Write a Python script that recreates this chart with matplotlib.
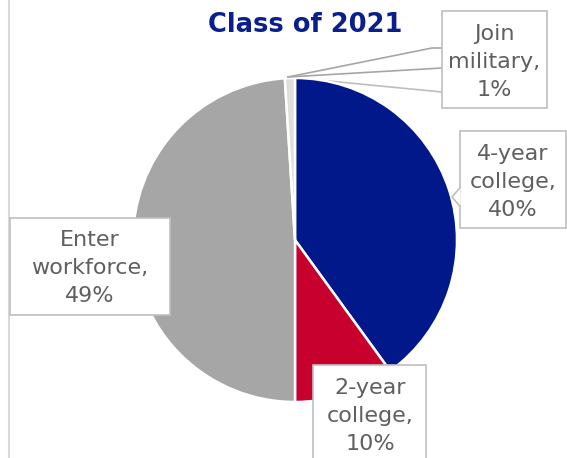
import matplotlib.pyplot as plt
from matplotlib.patches import Rectangle, Polygon

categories = ["4-year college", "2-year college", "Enter workforce", "Join military"]
percent = [40, 10, 49, 1]
colors = ["#00188a", "#c8002d", "#a6a6a6", "#dedede"]
title = "Class of 2021"

W, H = 567, 458
TEXT = "#5f5f5f"
EDGE = "#bfbfbf"

def y(v):
    # picture rows go down, axes go up
    return H - v

fig = plt.figure(figsize=(W / 100, H / 100), dpi=100)
ax = fig.add_axes([0, 0, 1, 1])

ax.pie(percent, colors=colors, startangle=90, counterclock=False,
       center=(295, y(240)), radius=162,
       wedgeprops=dict(edgecolor="white", linewidth=1.8))
ax.set_xlim(0, W)
ax.set_ylim(0, H)
ax.set_aspect("equal")
ax.axis("off")

# chart area border on the left
ax.plot([9, 9], [0, H], color="#d9d9d9", lw=1.5)

ax.text(305, y(25), title, ha="center", va="center", fontsize=18.5,
        fontweight="bold", color="#0a1f8c")

# label boxes: (left, top, right, bottom) in picture pixels, text centre
boxes = {
    "4-year college": ((460, 131, 566, 228), (513, 182)),
    "2-year college": ((313, 365, 426, 470), (370, 416)),
    "Enter workforce": ((10, 218, 170, 315), (90, 268)),
    "Join military": ((442, 11, 547, 108), (494, 62)),
}

for name, v in zip(categories, percent):
    (l, t, r, b), (cx, cy) = boxes[name]
    ax.add_patch(Rectangle((l, y(b)), r - l, b - t, facecolor="white",
                           edgecolor=EDGE, lw=1.2, zorder=3))
    label = name.replace(" ", "\n") + ",\n" + f"{v}%"
    ax.text(cx, y(cy), label, ha="center", va="center", fontsize=16,
            color=TEXT, linespacing=1.5, zorder=4)

# callout notch for 4-year college
ax.add_patch(Polygon([(460.6, y(187)), (452, y(197)), (460.6, y(207))],
                     closed=False, facecolor="white", edgecolor=EDGE,
                     lw=1.2, zorder=5))

# leader lines for join military
tip = (288, y(77))
ax.plot([tip[0], 432, 442], [tip[1], y(48), y(48)], color="#a6a6a6", lw=1.2, zorder=2)
ax.plot([tip[0], 442], [tip[1], y(68)], color="#a6a6a6", lw=1.2, zorder=2)
ax.plot([tip[0], 442], [tip[1], y(92)], color="#bfbfbf", lw=1.2, zorder=0.5)

fig.savefig("out.png", dpi=100)
